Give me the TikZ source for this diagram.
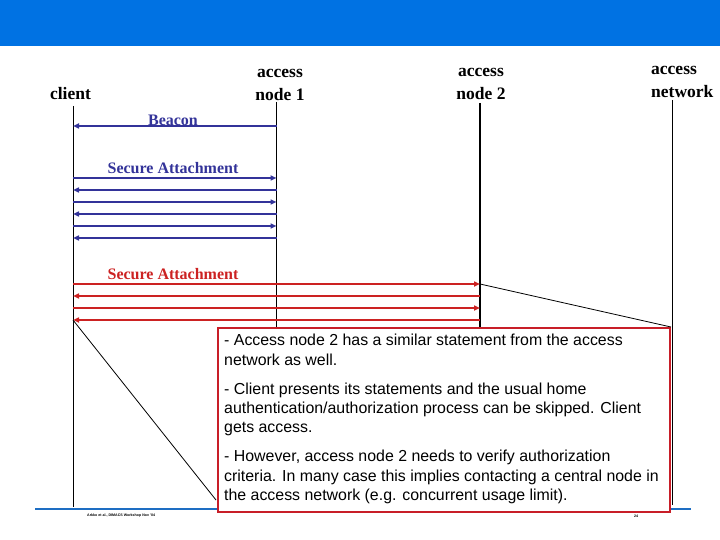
\documentclass[tikz,border=0pt]{standalone}
\usepackage{fontspec}
\setmainfont{Liberation Serif}
\setsansfont{Liberation Sans}
\usetikzlibrary{arrows.meta}
\definecolor{barblue}{RGB}{0,114,227}
\definecolor{msgblue}{RGB}{51,51,153}
\definecolor{msgred}{RGB}{204,34,34}
\definecolor{boxred}{RGB}{200,30,40}
\definecolor{footblue}{RGB}{30,110,195}
\tikzset{
  hdr/.style={font=\fontsize{17.5}{20}\selectfont\bfseries, inner sep=0pt},
  lbl/.style={font=\fontsize{16}{18}\selectfont\bfseries, inner sep=0pt},
  life/.style={draw=black, line width=0.8pt},
  lifethick/.style={draw=black, line width=1.6pt},
  bmsg/.style={draw=msgblue, line width=2pt, -{Triangle[length=6pt,width=5pt]}},
  rmsg/.style={draw=msgred, line width=2pt, -{Triangle[length=6pt,width=5pt]}},
  diag/.style={draw=black, line width=0.8pt},
  notebox/.style={draw=boxred, line width=2pt, fill=white, inner sep=0pt, anchor=north west},
}
\begin{document}
\begin{tikzpicture}[x=1pt,y=-1pt]
\useasboundingbox (0,0) rectangle (720,540);
\fill[barblue] (0,0) rectangle (720,46);

% headers
\node[hdr] (hc) at (70.5,94) {client};
\node[hdr] (h1a) at (280,73) {access};
\node[hdr] (h1b) at (280,95) {node 1};
\node[hdr] (h2a) at (481,72) {access};
\node[hdr] (h2b) at (481,94) {node 2};
\node[hdr, anchor=west] (h3a) at (651,70) {access};
\node[hdr, anchor=west] (h3b) at (651,92) {network};

% lifelines
\coordinate (cT) at (73,106);   \coordinate (cB) at (73,507);
\coordinate (aT) at (276.5,102); \coordinate (aB) at (276.5,327);
\coordinate (bT) at (480,103);  \coordinate (bB) at (480,505);
\coordinate (nT) at (672,100);  \coordinate (nB) at (672,505);
\draw[life] (cT) -- (cB);
\draw[life] (aT) -- (aB);
\draw[lifethick] (bT) -- (bB);
\draw[life] (nT) -- (nB);

% footer line
\coordinate (fL) at (35,509); \coordinate (fR) at (691,509);
\draw[footblue, line width=2.5pt] (fL) -- (fR);

% beacon
\coordinate (b0c) at (73,126); \coordinate (b0a) at (276.5,126);
\draw[bmsg] (b0a) -- (b0c);
\node[lbl, text=msgblue] (beacon) at (173,120) {Beacon};

% secure attachment (blue)
\node[lbl, text=msgblue] (sa1) at (173,168) {Secure Attachment};
\foreach \i/\y in {1/178,2/190,3/202,4/214,5/226,6/238}{
  \coordinate (sc\i) at (73,\y);
  \coordinate (sa\i) at (276.5,\y);
}
\draw[bmsg] (sc1) -- (sa1);
\draw[bmsg] (sa2) -- (sc2);
\draw[bmsg] (sc3) -- (sa3);
\draw[bmsg] (sa4) -- (sc4);
\draw[bmsg] (sc5) -- (sa5);
\draw[bmsg] (sa6) -- (sc6);

% secure attachment (red)
\node[lbl, text=msgred] (sa2lbl) at (173,274) {Secure Attachment};
\foreach \i/\y in {1/284,2/296,3/308,4/320}{
  \coordinate (rc\i) at (73,\y);
  \coordinate (rb\i) at (480,\y);
}
\draw[rmsg] (rc1) -- (rb1);
\draw[rmsg] (rb2) -- (rc2);
\draw[rmsg] (rc3) -- (rb3);
\draw[rmsg] (rb4) -- (rc4);

% note box
\node[notebox, minimum width=452pt, minimum height=184pt] (note) at (217,327) {};
\coordinate (d1e) at (note.north east);
\coordinate (d2e) at ([xshift=-1pt,yshift=13pt]note.south west);
\draw[diag] (rb1) -- (d1e);
\draw[diag] (rc4) -- (d2e);
\node[anchor=north west, inner sep=0pt, align=left,
      font=\sffamily\fontsize{15.9}{19.4}\selectfont] (notetext) at (224,334)
{- Access node 2 has a similar statement from the access\\
network as well.\\[9.5pt]
- Client presents its statements and the usual home\\
authentication/authorization process can be skipped. Client\\
gets access.\\[9.5pt]
- However, access node 2 needs to verify authorization\\
criteria. In many case this implies contacting a central node in\\
the access network (e.g. concurrent usage limit).};

% footer text
\node[anchor=west, inner sep=0pt, font=\sffamily\bfseries\fontsize{3.6}{4}\selectfont] (foot) at (87,516) {Arkko et al., DIMACS Workshop Nov '04};
\node[inner sep=0pt, font=\sffamily\bfseries\fontsize{3.6}{4}\selectfont] (page) at (636,516) {24};
\end{tikzpicture}
\end{document}
